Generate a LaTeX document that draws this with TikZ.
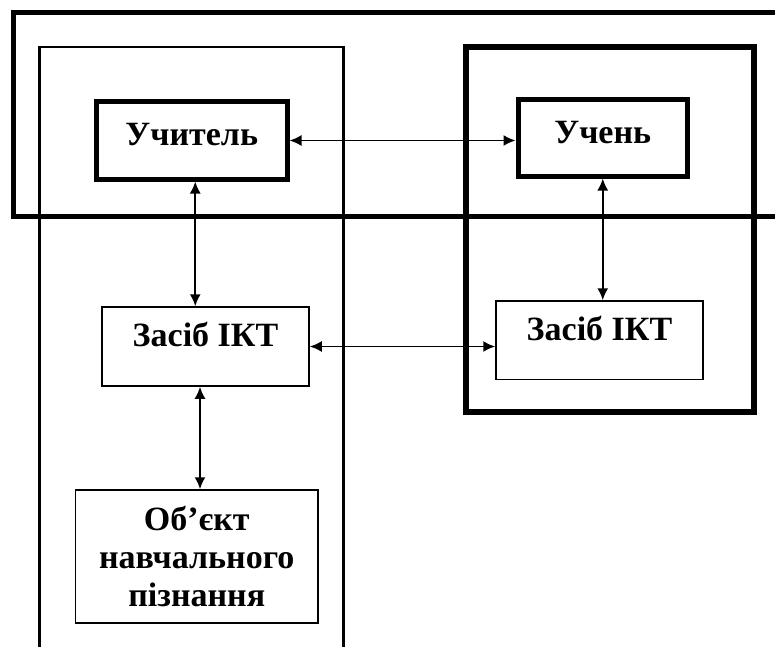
\documentclass[tikz,border=0pt]{standalone}
\usepackage{fontspec}
\setmainfont{Liberation Serif}
\usetikzlibrary{arrows.meta}

\tikzset{
    mainbox/.style={draw, line width=5pt, inner sep=0pt, text height=22pt, text depth=12pt},
    toolbox/.style={draw, line width=1.5pt, inner sep=0pt, align=center},
    link/.style={line width=1.8pt, {Latex[length=12pt,width=11pt]}-{Latex[length=12pt,width=11pt]}}
}

\begin{document}
\begin{tikzpicture}[x=1pt, y=-1pt, font=\fontsize{34}{38}\selectfont\bfseries]
        \useasboundingbox (0,0) rectangle (775,647);

        % Frames
        \draw[line width=5pt] (775,13) -- (13,13) -- (13,216.5) -- (775,216.5);
        \draw[line width=2.5pt] (39.5,647) -- (39.5,47) -- (343.5,47) -- (343.5,647);
        \draw[line width=6pt] (466,47) rectangle (754,412);

        % Nodes
        \node[mainbox, minimum width=190.5pt, minimum height=77pt] (teacher) at (191.75,140.5) {Учитель};
        \node[mainbox, minimum width=169.5pt, minimum height=76pt] (pupil) at (602.75,138) {Учень};
        \node[toolbox, minimum width=207pt, minimum height=79pt, text height=13pt, text depth=13pt] (toolT) at (205.5,346.5) {Засіб ІКТ};
        \node[toolbox, minimum width=207pt, minimum height=78.5pt, text height=13pt, text depth=13pt] (toolP) at (599.5,340.25) {Засіб ІКТ};
        \node[toolbox, minimum width=242.5pt, minimum height=133pt] (object) at (196.75,556.5) {Об’єкт\\навчального\\пізнання};

        % Arrows
        \draw[link] (teacher.east) -- (teacher.east -| pupil.west);
        \draw[link] ([xshift=3.5pt]teacher.south) -- ([xshift=3.5pt]teacher.south |- toolT.north);
        \draw[link] (pupil.south) -- (pupil.south |- toolP.north);
        \draw[link] (toolT.east) -- (toolT.east -| toolP.west);
        \draw[link] ([xshift=-5.5pt]toolT.south) -- ([xshift=-5.5pt]toolT.south |- object.north);

    \end{tikzpicture}
\end{document}
